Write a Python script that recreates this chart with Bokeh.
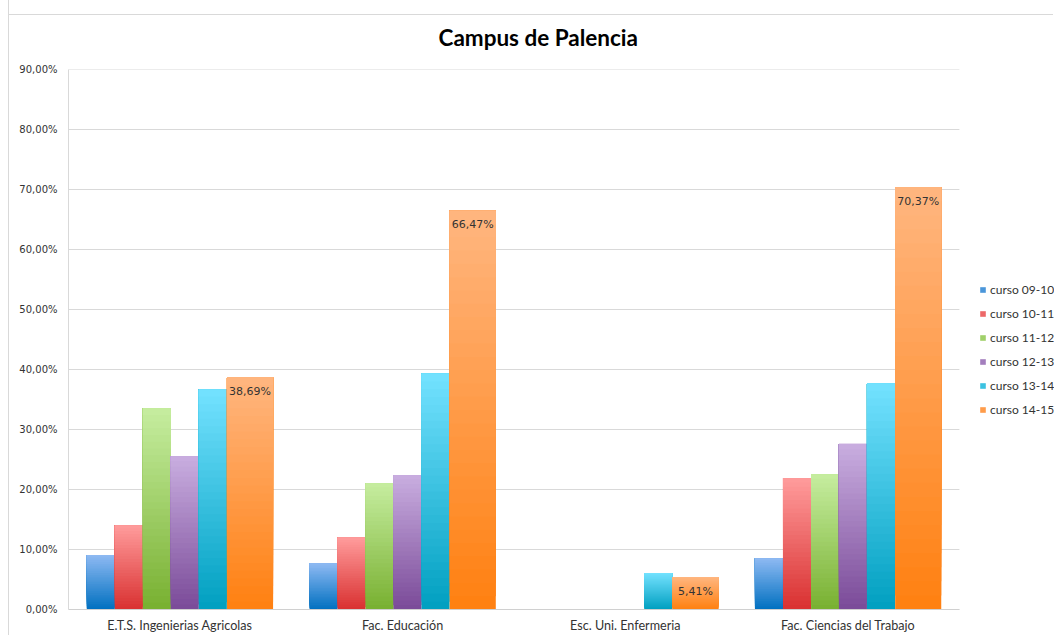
from bokeh.plotting import figure
from bokeh.models import (ColumnDataSource, Range1d, CustomJSTickFormatter,
                          Legend, LegendItem, FixedTicker)
from bokeh.embed import file_html
from bokeh.resources import INLINE
from bokeh.core.properties import value

# ---------------- data ----------------
categories = ["E.T.S. Ingenierias Agricolas", "Fac. Educación",
              "Esc. Uni. Enfermeria", "Fac. Ciencias del Trabajo"]
series_names = ["curso 09-10", "curso 10-11", "curso 11-12",
                "curso 12-13", "curso 13-14", "curso 14-15"]
curso_09_10 = [9.1, 7.7, 0.0, 8.55]
curso_10_11 = [14.0, 12.0, 0.0, 21.9]
curso_11_12 = [33.55, 21.05, 0.0, 22.55]
curso_12_13 = [25.55, 22.4, 0.0, 27.6]
curso_13_14 = [36.67, 39.33, 6.1, 37.7]
curso_14_15 = [38.69, 66.47, 5.41, 70.37]
y_ticks = [0, 10, 20, 30, 40, 50, 60, 70, 80, 90]

series_values = [curso_09_10, curso_10_11, curso_11_12,
                 curso_12_13, curso_13_14, curso_14_15]

# ---------------- style ----------------
offsets = [-0.355, -0.229, -0.103, 0.022, 0.148, 0.315]
widths = [0.126, 0.126, 0.126, 0.126, 0.126, 0.207]
top_colors = ["#8fbaf3", "#ff9c9c", "#c6eda0", "#c9aee0", "#74e2ff", "#ffb680"]
bottom_colors = ["#0070c0", "#d93030", "#78b030", "#7a4a98", "#009fc0", "#ff8010"]
N_SLICES = 30
LEGEND_ROOM = 0.427   # extra x-room (in category units) right of the last group for the legend


def hex2rgb(h):
    h = h.lstrip("#")
    return tuple(int(h[i:i + 2], 16) for i in (0, 2, 4))


def mix(c1, c2, t):
    a, b = hex2rgb(c1), hex2rgb(c2)
    return "#%02x%02x%02x" % tuple(int(round(a[i] + (b[i] - a[i]) * t)) for i in range(3))


cat_idx = list(range(len(categories)))
x_start, x_end = -0.5, len(categories) - 0.5

p = figure(x_range=Range1d(x_start, x_end + LEGEND_ROOM), y_range=Range1d(0, 90),
           width=1045, height=635, output_backend="svg", toolbar_location=None,
           min_border_left=59, min_border_right=0, min_border_top=69, min_border_bottom=20)
p.border_fill_alpha = 0
p.styles = {"margin-left": "8px", "border-left": "1px solid #d9d9d9",
            "background-color": "#ffffff",
            "background-image": "linear-gradient(#d9d9d9, #d9d9d9)",
            "background-size": "100% 1px", "background-position": "0 14px",
            "background-repeat": "no-repeat"}

p.title.text = "Campus de Palencia"
p.title.align = "left"
p.title.offset = 370
p.title.text_font = "Lato"
p.title.text_font_size = "22.5px"
p.title.text_font_style = "bold"
p.title.text_color = "#000000"
p.title.standoff = 38

# horizontal gridlines limited to the category area
p.segment(x0=x_start, x1=x_end, y0=y_ticks, y1=y_ticks, line_color="#d9d9d9", line_width=1)

legend_items = []
for si, (name, vals) in enumerate(zip(series_names, series_values)):
    xs = [i + offsets[si] for i in cat_idx]
    mid_renderer = None
    for k in range(N_SLICES):
        frac = k / N_SLICES
        src = ColumnDataSource(dict(x=xs, top=vals, bottom=[v * frac for v in vals]))
        col = mix(bottom_colors[si], top_colors[si], (k + 0.5) / N_SLICES)
        r = p.vbar(x="x", top="top", bottom="bottom", width=widths[si], source=src,
                   fill_color=col, line_color=None)
        if k == N_SLICES // 2:
            mid_renderer = r
    legend_items.append(LegendItem(label=name, renderers=[mid_renderer]))

# data labels for last series
lbl_src = ColumnDataSource(dict(x=[i + offsets[5] for i in cat_idx], v=curso_14_15,
                                txt=[("%.2f%%" % v).replace(".", ",") for v in curso_14_15]))
p.text(x="x", y="v", text="txt", source=lbl_src,
       y_offset=14, text_align="center", text_baseline="middle",
       text_font=value("DejaVu Sans"), text_font_size="11px", text_color="#333333")

legend = Legend(items=legend_items, location=(911, 192))
legend.border_line_color = None
legend.background_fill_alpha = 0
legend.label_text_font = "Lato"
legend.label_text_font_size = "12px"
legend.label_text_color = "#333333"
legend.glyph_width = 7
legend.glyph_height = 7
legend.label_height = 16
legend.spacing = 8
legend.padding = 4
legend.margin = 0
legend.label_standoff = 4
p.add_layout(legend, "center")

# axes
p.yaxis.ticker = FixedTicker(ticks=y_ticks)
p.yaxis.formatter = CustomJSTickFormatter(code="return tick.toFixed(2).replace('.', ',') + '%';")
p.yaxis.major_label_text_font = "DejaVu Sans"
p.yaxis.major_label_text_font_size = "10px"
p.yaxis.major_label_text_color = "#333333"
p.yaxis.axis_line_color = "#d9d9d9"
p.yaxis.major_tick_line_color = None
p.yaxis.minor_tick_line_color = None
p.yaxis.major_tick_out = 0
p.yaxis.major_tick_in = 0
p.yaxis.major_label_standoff = 11

p.xaxis.ticker = FixedTicker(ticks=cat_idx)
p.xaxis.major_label_overrides = {i: c for i, c in zip(cat_idx, categories)}
p.xaxis.bounds = (x_start, x_end)
p.xaxis.major_label_text_font = "Lato"
p.xaxis.major_label_text_font_size = "12.6px"
p.xaxis.major_label_text_color = "#333333"
p.xaxis.axis_line_color = "#d0d0d0"
p.xaxis.major_tick_line_color = None
p.xaxis.minor_tick_line_color = None
p.xaxis.major_tick_out = 0
p.xaxis.major_tick_in = 0
p.xaxis.major_label_standoff = 8

p.xgrid.grid_line_color = None
p.ygrid.grid_line_color = None
p.outline_line_color = None

open("out.html", "w").write(file_html(p, INLINE))
